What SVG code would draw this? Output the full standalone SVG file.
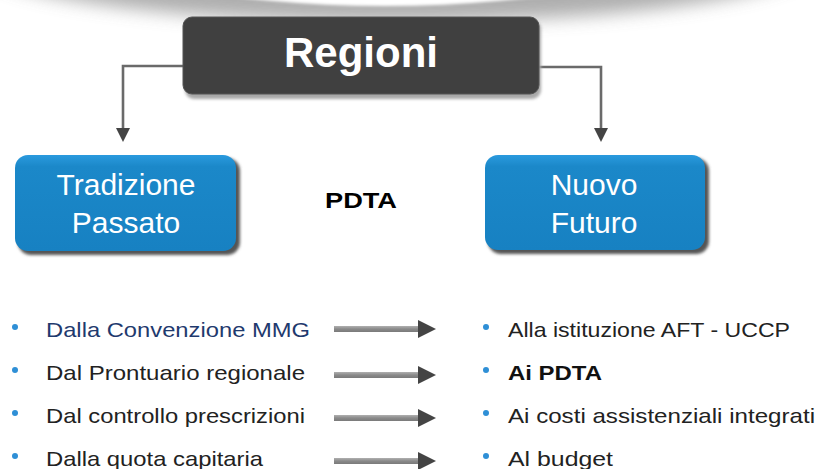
<svg xmlns="http://www.w3.org/2000/svg" width="820" height="469" viewBox="0 0 820 469">
  <defs>
    <filter id="blur" x="-20%" y="-50%" width="140%" height="200%">
      <feGaussianBlur stdDeviation="9"/>
    </filter>
    <filter id="soft" x="-10%" y="-10%" width="120%" height="130%">
      <feGaussianBlur stdDeviation="1.5"/>
    </filter>
    <linearGradient id="blueG" x1="0" y1="0" x2="0" y2="1">
      <stop offset="0" stop-color="#2a9ade"/>
      <stop offset="0.12" stop-color="#1b88c9"/>
      <stop offset="1" stop-color="#1781c2"/>
    </linearGradient>
    <linearGradient id="shaftG" x1="0" y1="0" x2="0" y2="1">
      <stop offset="0" stop-color="#b0b0b0"/>
      <stop offset="0.5" stop-color="#8a8a8a"/>
      <stop offset="1" stop-color="#7a7a7a"/>
    </linearGradient>
    <marker id="ah" viewBox="0 0 10 10" refX="9" refY="5" markerWidth="5" markerHeight="5" markerUnits="strokeWidth" orient="auto">
      <path d="M0,0 L10,5 L0,10 Z" fill="#444"/>
    </marker>
  </defs>
  <style>
    .conn { fill: none; stroke: #6a6a6a; stroke-width: 2.6; }
    .blueTxt { font-family: "Liberation Sans", Arial, sans-serif; font-size: 30px; fill: #ffffff; text-anchor: middle; }
    .item { font-family: "Liberation Sans", Arial, sans-serif; font-size: 21px; fill: #222222; }
    .bullet { fill: #2e8fd6; }
    .shaft { fill: url(#shaftG); }
    .head { fill: #444444; }
  </style>

  <rect x="0" y="0" width="820" height="469" fill="#ffffff"/>

  <!-- top decoration -->
  <g id="top-deco">
    <ellipse cx="395" cy="-40" rx="420" ry="62" fill="#9a9a9a" filter="url(#blur)" opacity="0.8"/>
    <ellipse cx="385" cy="-62" rx="300" ry="68" fill="#ffffff" filter="url(#soft)"/>
  </g>

  <!-- connectors -->
  <g id="connectors">
    <path class="conn" d="M183,66 H123 V130"/>
    <path d="M116,128 L130,128 L123,142 Z" fill="#444"/>
    <path class="conn" d="M539,67 H601 V130"/>
    <path d="M594,128 L608,128 L601,142 Z" fill="#444"/>

    <rect class="shaft" x="334" y="326" width="86" height="6"/>
    <path class="head" d="M418,320 L436,329 L418,338 Z"/>
    <rect class="shaft" x="334" y="372" width="86" height="6"/>
    <path class="head" d="M418,366 L436,375 L418,384 Z"/>
    <rect class="shaft" x="334" y="415" width="86" height="6"/>
    <path class="head" d="M418,409 L436,418 L418,427 Z"/>
    <rect class="shaft" x="334" y="458" width="86" height="6"/>
    <path class="head" d="M418,452 L436,461 L418,470 Z"/>
  </g>

  <!-- Regioni -->
  <g id="regioni">
    <rect x="185" y="20" width="356" height="79" rx="9" fill="#a8a8a8" filter="url(#soft)"/>
    <rect x="183" y="17" width="356" height="77" rx="9" fill="#404040" stroke="#555" stroke-width="1"/>
    <text x="361" y="67" font-family="Liberation Sans, Arial, sans-serif" font-size="42" font-weight="bold" fill="#ffffff" text-anchor="middle">Regioni</text>
  </g>

  <!-- Tradizione Passato -->
  <g id="tradizione">
    <rect x="18" y="158" width="222" height="97" rx="13" fill="#555" filter="url(#soft)"/>
    <rect x="15" y="155" width="221" height="96" rx="13" fill="url(#blueG)"/>
    <text class="blueTxt" x="126" y="195">Tradizione</text>
    <text class="blueTxt" x="126" y="233">Passato</text>
  </g>

  <!-- PDTA -->
  <g id="pdta">
    <text x="325" y="208" font-family="Liberation Sans, Arial, sans-serif" font-size="22" font-weight="bold" fill="#000" textLength="72" lengthAdjust="spacingAndGlyphs">PDTA</text>
  </g>

  <!-- Nuovo Futuro -->
  <g id="nuovo">
    <rect x="488" y="158" width="221" height="96" rx="13" fill="#555" filter="url(#soft)"/>
    <rect x="485" y="155" width="220" height="95" rx="13" fill="url(#blueG)"/>
    <text class="blueTxt" x="594" y="195">Nuovo</text>
    <text class="blueTxt" x="594" y="233">Futuro</text>
  </g>

  <!-- left list -->
  <g id="left-list">
    <circle class="bullet" cx="15" cy="327" r="3"/>
    <text class="item" x="46" y="337" fill="#1f3a6e" style="fill:#1f3a6e" textLength="264" lengthAdjust="spacingAndGlyphs">Dalla Convenzione MMG</text>
    <circle class="bullet" cx="15" cy="370" r="3"/>
    <text class="item" x="46" y="380" textLength="259" lengthAdjust="spacingAndGlyphs">Dal Prontuario regionale</text>
    <circle class="bullet" cx="15" cy="413" r="3"/>
    <text class="item" x="46" y="423" textLength="259" lengthAdjust="spacingAndGlyphs">Dal controllo prescrizioni</text>
    <circle class="bullet" cx="15" cy="456" r="3"/>
    <text class="item" x="46" y="466" textLength="217" lengthAdjust="spacingAndGlyphs">Dalla quota capitaria</text>
  </g>

  <!-- right list -->
  <g id="right-list">
    <circle class="bullet" cx="486" cy="327" r="3"/>
    <text class="item" x="508" y="337" textLength="282" lengthAdjust="spacingAndGlyphs">Alla istituzione AFT - UCCP</text>
    <circle class="bullet" cx="486" cy="370" r="3"/>
    <text class="item" x="508" y="380" font-weight="bold" style="fill:#111" textLength="94" lengthAdjust="spacingAndGlyphs">Ai PDTA</text>
    <circle class="bullet" cx="486" cy="413" r="3"/>
    <text class="item" x="508" y="423" textLength="307" lengthAdjust="spacingAndGlyphs">Ai costi assistenziali integrati</text>
    <circle class="bullet" cx="486" cy="456" r="3"/>
    <text class="item" x="508" y="466" textLength="105" lengthAdjust="spacingAndGlyphs">Al budget</text>
  </g>
</svg>
